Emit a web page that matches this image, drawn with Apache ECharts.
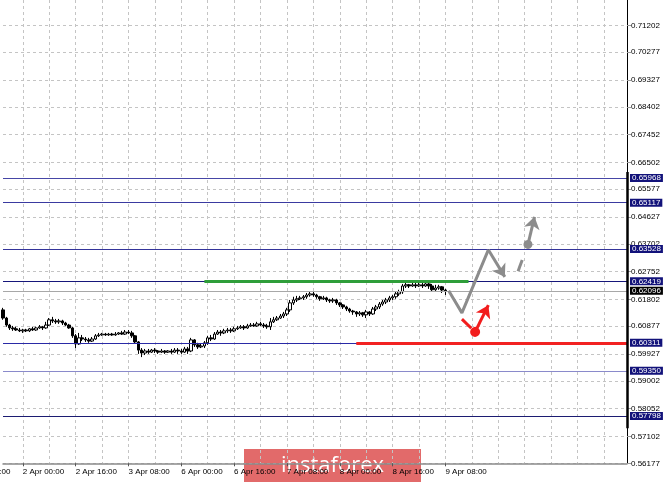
<!DOCTYPE html>
<html><head><meta charset="utf-8">
<script src="https://cdn.jsdelivr.net/npm/echarts@6/dist/echarts.min.js"></script>
<style>html,body{margin:0;padding:0;background:#fff;}#c{width:665px;height:482px;}</style>
</head><body><div id="c"></div>
<script>
// ---- data ----
const tickLabels = ['2 Apr 00:00','2 Apr 16:00','3 Apr 08:00','6 Apr 00:00','6 Apr 16:00','7 Apr 08:00','8 Apr 00:00','8 Apr 16:00','9 Apr 08:00'];
const hiddenLeftLabel = '1 Apr 08:00';
const yTicks = [0.71202,0.70277,0.69327,0.68402,0.67452,0.66502,0.65577,0.64627,0.63702,0.62752,0.61802,0.60877,0.59927,0.59002,0.58052,0.57102,0.56177];
const candleOpen = [
.6144,.6116,.6092,.6082,.6079,.6075,.6072,.6075,.6072,.6079,
.6075,.6082,.6086,.6082,.6092,.6110,.6106,.6103,.6106,.6099,
.6092,.6082,.6055,.6027,.6048,.6044,.6041,.6037,.6044,.6055,
.6058,.6061,.6058,.6061,.6058,.6061,.6065,.6061,.6068,.6065,
.6055,.6034,.6006,.5996,.6003,.5999,.6006,.6003,.5999,.6003,
.5999,.6003,.5999,.6006,.6003,.5999,.6010,.6003,.6041,.6024,
.6017,.6020,.6031,.6048,.6044,.6061,.6068,.6065,.6072,.6075,
.6072,.6079,.6082,.6086,.6082,.6089,.6092,.6089,.6096,.6092,
.6089,.6086,.6103,.6110,.6116,.6123,.6130,.6144,.6168,.6178,
.6182,.6185,.6189,.6195,.6199,.6195,.6189,.6182,.6185,.6178,
.6175,.6178,.6168,.6161,.6154,.6147,.6140,.6137,.6130,.6134,
.6127,.6137,.6130,.6147,.6154,.6164,.6171,.6178,.6185,.6189,
.6199,.6206,.6226,.6230,.6226,.6230,.6226,.6230,.6226,.6233,
.6226,.6213,.6219,.6223,.6212];
const candleClose = [
.6116,.6092,.6082,.6079,.6075,.6072,.6075,.6072,.6079,.6075,
.6082,.6086,.6082,.6092,.6110,.6106,.6103,.6106,.6099,.6092,
.6082,.6055,.6027,.6048,.6044,.6041,.6037,.6044,.6055,.6058,
.6061,.6058,.6061,.6058,.6061,.6065,.6061,.6068,.6065,.6055,
.6034,.6006,.5996,.6003,.5999,.6006,.6003,.5999,.6003,.5999,
.6003,.5999,.6006,.6003,.5999,.6010,.6003,.6041,.6024,.6017,
.6020,.6031,.6048,.6044,.6061,.6068,.6065,.6072,.6075,.6072,
.6079,.6082,.6086,.6082,.6089,.6092,.6089,.6096,.6092,.6089,
.6086,.6103,.6110,.6116,.6123,.6130,.6144,.6168,.6178,.6182,
.6185,.6189,.6195,.6199,.6195,.6189,.6182,.6185,.6178,.6175,
.6178,.6168,.6161,.6154,.6147,.6140,.6137,.6130,.6134,.6127,
.6137,.6130,.6147,.6154,.6164,.6171,.6178,.6185,.6189,.6199,
.6206,.6226,.6230,.6226,.6230,.6226,.6230,.6226,.6233,.6226,
.6213,.6219,.6223,.6212,.62096];
const candleLow = [
.6110,.6086,.6075,.6072,.6072,.6068,.6065,.6068,.6068,.6072,
.6072,.6079,.6075,.6079,.6089,.6099,.6096,.6096,.6092,.6089,
.6079,.6048,.6013,.6024,.6037,.6034,.6031,.6034,.6041,.6051,
.6055,.6055,.6055,.6055,.6055,.6058,.6058,.6058,.6061,.6048,
.6027,.5993,.5982,.5989,.5993,.5996,.5996,.5993,.5996,.5993,
.5996,.5993,.5996,.5993,.5993,.5996,.5993,.5999,.6017,.6010,
.6013,.6013,.6024,.6037,.6041,.6058,.6055,.6061,.6065,.6065,
.6068,.6075,.6079,.6075,.6079,.6086,.6086,.6086,.6089,.6082,
.6079,.6075,.6099,.6106,.6113,.6116,.6123,.6137,.6161,.6171,
.6178,.6178,.6182,.6189,.6189,.6182,.6175,.6178,.6171,.6168,
.6168,.6161,.6154,.6147,.6140,.6134,.6127,.6120,.6123,.6120,
.6116,.6123,.6127,.6140,.6147,.6158,.6164,.6171,.6178,.6182,
.6192,.6199,.6219,.6219,.6223,.6219,.6223,.6219,.6223,.6216,
.6206,.6209,.6213,.6202,.6195];
const candleHigh = [
.6151,.6120,.6096,.6089,.6086,.6082,.6079,.6079,.6082,.6086,
.6086,.6092,.6089,.6103,.6116,.6120,.6113,.6113,.6110,.6103,
.6096,.6086,.6061,.6065,.6058,.6051,.6048,.6051,.6061,.6065,
.6065,.6065,.6065,.6065,.6068,.6068,.6072,.6075,.6075,.6072,
.6058,.6037,.6013,.6010,.6010,.6010,.6013,.6006,.6010,.6006,
.6006,.6010,.6013,.6013,.6010,.6017,.6017,.6048,.6044,.6031,
.6027,.6037,.6055,.6058,.6068,.6075,.6075,.6079,.6082,.6082,
.6086,.6089,.6092,.6092,.6096,.6099,.6099,.6103,.6103,.6099,
.6096,.6116,.6120,.6123,.6130,.6137,.6151,.6178,.6189,.6192,
.6192,.6195,.6202,.6206,.6206,.6199,.6192,.6192,.6189,.6182,
.6185,.6182,.6171,.6164,.6158,.6151,.6144,.6140,.6140,.6137,
.6144,.6140,.6154,.6161,.6171,.6178,.6185,.6192,.6195,.6206,
.6213,.6233,.6237,.6233,.6237,.6237,.6237,.6237,.6240,.6237,
.6233,.6230,.6230,.6226,.6216];
const bidPrice = 0.62096;
const blueLevels = [0.65968, 0.65117, 0.63528, 0.62419, 0.60311, 0.59350, 0.57798];
const greenLevel = [[61, 0.6243], [141, 0.6243]];
const redLevel = [[107, 0.60311], [189, 0.60311]];
const grayPath = [[135, 0.62096], [139, 0.61337], [147, 0.63500]];
const grayArrow1 = [[147, 0.63500], [152, 0.62572]];
const grayDash = [[156, 0.62768], [159, 0.63685]];
const grayArrow2 = [[159, 0.63685], [161, 0.64632]];
const redDash = [[139, 0.61120], [143, 0.60685]];
const redArrow = [[143, 0.60685], [147, 0.61601]];
const axisStrong = [[189, 0.66166], [189, 0.57379]];

// ---- build ----
const FIRST_LABEL = 6, LABEL_STEP = 16, GRID_STEP = 8, N_CAT = 190;
const categories = [];
for (let k = 0; k < N_CAT; k++) {
  const j = (k - FIRST_LABEL) / LABEL_STEP;
  categories.push(Number.isInteger(j) && j >= 0 && j < tickLabels.length ? tickLabels[j] : '');
}
const candleData = candleOpen.map((o, i) => [i, o, candleClose[i], candleLow[i], candleHigh[i]]);
const FONT = 'Liberation Sans';
const levelColors = ['#4646a6', '#3a3aa0', '#34349a', '#16167a', '#2a2aa6', '#8a8acb', '#1c1c72'];

function seg(pts, startSym, endSym, extra) {
  return [Object.assign({coord: pts[0], symbol: startSym || 'none'}, extra && extra.start || {}),
          Object.assign({coord: pts[1], symbol: endSym || 'none'}, extra && extra.end || {})];
}
function helper(markLine) {
  return {type: 'line', data: [], silent: true,
    markLine: Object.assign({silent: true, animation: false, precision: 5, label: {show: false}}, markLine)};
}

const chart = echarts.init(document.getElementById('c'), null, {renderer: 'canvas'});
chart.setOption({
  animation: false,
  backgroundColor: '#ffffff',
  grid: {left: 2, right: 38, top: 0, height: 463.3, containLabel: false},
  xAxis: {
    type: 'category', data: categories, boundaryGap: false,
    axisLine: {show: true, lineStyle: {color: '#8a8a8a', width: 1.5}},
    axisTick: {show: true, length: 3, lineStyle: {color: '#555'},
      interval: (idx) => categories[idx] !== ''},
    axisLabel: {show: true, interval: 0, align: 'left', margin: 4, fontSize: 8, color: '#000', fontFamily: FONT},
    splitLine: {show: true, interval: (idx) => (idx - FIRST_LABEL) % GRID_STEP === 0, lineStyle: {color: '#c4c4c4', type: [3, 3], width: 1}}
  },
  yAxis: {
    type: 'value', position: 'right', min: 0.56177, max: 0.72070, scale: true,
    axisLine: {show: true, lineStyle: {color: '#000', width: 1}},
    axisTick: {show: true, length: 4, customValues: yTicks, lineStyle: {color: '#999'}},
    axisLabel: {show: true, customValues: yTicks, formatter: (v) => v.toFixed(5), margin: 4, fontSize: 8, color: '#000', fontFamily: FONT},
    splitLine: {show: true, lineStyle: {color: '#c4c4c4', type: [3, 3], width: 1}}
  },
  series: [
    {
      type: 'candlestick', data: candleData, encode: {x: 0, y: [1, 2, 3, 4]},
      barWidth: 3, silent: true, clip: false,
      itemStyle: {color: '#ffffff', color0: '#000000', borderColor: '#000000', borderColor0: '#000000', borderWidth: 1}
    },
    helper({
      symbol: 'none',
      data: blueLevels.map((v, i) => ({
        yAxis: v, lineStyle: {color: levelColors[i], width: 1, type: 'solid'},
        label: {show: true, position: 'end', distance: 3, formatter: (p) => Number(p.value).toFixed(5),
          backgroundColor: '#12127a', color: '#fff', fontSize: 8, fontFamily: FONT, padding: [0, 2, 0, 2], lineHeight: 8}
      })).concat([{
        yAxis: bidPrice, lineStyle: {color: '#a8a8a8', width: 1, type: 'solid'},
        label: {show: true, position: 'end', distance: 3, formatter: (p) => Number(p.value).toFixed(5),
          backgroundColor: '#000', color: '#fff', fontSize: 8, fontFamily: FONT, padding: [0, 2, 0, 2], lineHeight: 8}
      }])
    }),
    helper({data: [seg(greenLevel)], lineStyle: {color: '#2f9e3a', width: 3, type: 'solid'}}),
    helper({data: [seg(redLevel)], lineStyle: {color: '#f22222', width: 3, type: 'solid'}}),
    helper({data: [seg(axisStrong)], lineStyle: {color: '#000', width: 2.5, type: 'solid'}}),
    {
      type: 'line', data: grayPath, symbol: 'none', silent: true,
      lineStyle: {color: '#8c8c8c', width: 3}, z: 5
    },
    helper({z: 5, data: [seg(grayArrow1, 'none', 'arrow')], symbolSize: 12, lineStyle: {color: '#8c8c8c', width: 3, type: 'solid'}, itemStyle: {color: '#8c8c8c'}}),
    helper({z: 5, data: [seg(grayDash)], lineStyle: {color: '#8c8c8c', width: 3, type: [12, 30]}}),
    helper({z: 5, data: [seg(grayArrow2, 'circle', 'arrow', {start: {symbolSize: 9}, end: {symbolSize: 12}})], lineStyle: {color: '#8c8c8c', width: 3, type: 'solid'}, itemStyle: {color: '#8c8c8c'}}),
    helper({z: 5, data: [seg(redDash)], lineStyle: {color: '#f21d1d', width: 3, type: [13, 30]}}),
    helper({z: 5, data: [seg(redArrow, 'circle', 'arrow', {start: {symbolSize: 10}, end: {symbolSize: 12}})], lineStyle: {color: '#f21d1d', width: 3, type: 'solid'}, itemStyle: {color: '#f21d1d'}})
  ],
  graphic: [
    {type: 'text', x: -31, y: 467.5, z: 90, silent: true,
     style: {text: hiddenLeftLabel, fill: '#000', font: '8px "Liberation Sans"', verticalAlign: 'top'}},
    {
    type: 'group', left: 244, top: 449, z: 100,
    children: [
      {type: 'rect', shape: {x: 0, y: 0, width: 177, height: 33}, style: {fill: '#e26a6a'}},
      {type: 'text', style: {x: 88.5, y: 17, text: 'instaforex', fill: '#ffffff', font: '22px "Open Sans"', align: 'center', verticalAlign: 'middle'}}
    ]
  }]
});
</script></body></html>
